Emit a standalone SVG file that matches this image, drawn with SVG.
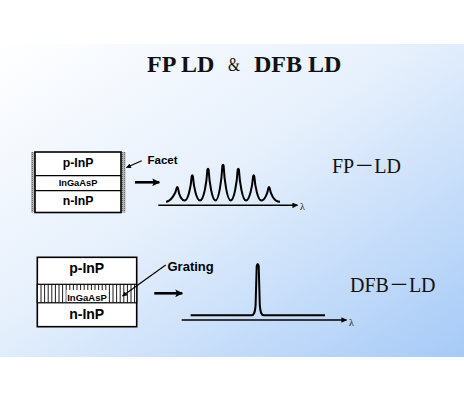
<svg xmlns="http://www.w3.org/2000/svg" width="464" height="400" viewBox="0 0 464 400">
<defs>
<linearGradient id="bg" x1="0" y1="0" x2="1" y2="1">
<stop offset="0" stop-color="#ffffff"/>
<stop offset="0.45" stop-color="#e6f0fc"/>
<stop offset="1" stop-color="#a6caf7"/>
</linearGradient>
<pattern id="stip" width="2" height="2" patternUnits="userSpaceOnUse">
<rect width="2" height="2" fill="#b4b4b4"/>
<rect width="1" height="1" fill="#6e6e6e"/>
</pattern>
<marker id="ah" viewBox="0 0 10 10" refX="9" refY="5" markerWidth="5" markerHeight="5" markerUnits="strokeWidth" orient="auto">
<path d="M0,0 L10,5 L0,10 L2,5 Z" fill="#000"/>
</marker>
<marker id="ahs" viewBox="0 0 10 10" refX="9" refY="5" markerWidth="4.5" markerHeight="4" markerUnits="strokeWidth" orient="auto">
<path d="M0,0 L10,5 L0,10 Z" fill="#000"/>
</marker>
<marker id="ahb" viewBox="0 0 10 10" refX="9" refY="5" markerWidth="3.5" markerHeight="3" markerUnits="strokeWidth" orient="auto">
<path d="M0,0 L10,5 L0,10 L2,5 Z" fill="#000"/>
</marker>
</defs>
<style>
.lay{fill:#ffffff;stroke:#000;stroke-width:1.6}
.lbl{font-family:"Liberation Sans",Arial,sans-serif;font-weight:bold;fill:#000;text-anchor:middle}
.call{font-family:"Liberation Sans",Arial,sans-serif;font-weight:bold;fill:#000}
.ser{font-family:"Liberation Serif","Noto Sans CJK SC",serif;fill:#111}
.curve{fill:none;stroke:#000;stroke-width:2;stroke-linejoin:round}
.axis{stroke:#000;stroke-width:1.4;fill:none}
.big{stroke:#000;stroke-width:2.6;fill:none}
.thin{stroke:#000;stroke-width:1.2;fill:none}
.grat{stroke:#000;stroke-width:0.9}
</style>
<rect width="464" height="400" fill="#ffffff"/>
<rect x="0" y="44" width="464" height="313" fill="url(#bg)"/>

<g id="title">
<text class="ser" x="147" y="71.5" font-size="24" font-weight="bold" fill="#000">FP LD</text>
<text class="ser" x="228" y="70.5" font-size="19" textLength="12" lengthAdjust="spacingAndGlyphs">&amp;</text>
<text class="ser" x="254" y="71.5" font-size="24" font-weight="bold" fill="#000">DFB LD</text>
</g>

<g id="fp-device">
<rect x="31" y="152" width="4" height="60.5" fill="url(#stip)"/>
<rect x="121" y="152" width="4.5" height="60.5" fill="url(#stip)"/>
<rect class="lay" x="35" y="152" width="86" height="60.5"/>
<line class="thin" x1="35" y1="175.7" x2="121" y2="175.7"/>
<line class="thin" x1="35" y1="190.7" x2="121" y2="190.7"/>
<text class="lbl" x="78" y="167" font-size="12.3">p-InP</text>
<text class="lbl" x="78" y="186" font-size="9.3">InGaAsP</text>
<text class="lbl" x="78" y="204.5" font-size="12.3">n-InP</text>
</g>

<g id="dfb-device">
<rect class="lay" x="37.3" y="257.3" width="99.4" height="69.4"/>
<rect x="37.3" y="284.3" width="99.4" height="18.5" fill="#ffffff" stroke="#000" stroke-width="1.2"/>
<g class="grat">
<line x1="41" y1="284.3" x2="41" y2="302.8"/><line x1="44.6" y1="284.3" x2="44.6" y2="302.8"/>
<line x1="48.2" y1="284.3" x2="48.2" y2="302.8"/><line x1="51.8" y1="284.3" x2="51.8" y2="302.8"/>
<line x1="55.4" y1="284.3" x2="55.4" y2="302.8"/><line x1="59" y1="284.3" x2="59" y2="302.8"/>
<line x1="62.6" y1="284.3" x2="62.6" y2="302.8"/><line x1="66.2" y1="284.3" x2="66.2" y2="302.8"/>
<line x1="69.8" y1="284.3" x2="69.8" y2="302.8"/><line x1="73.4" y1="284.3" x2="73.4" y2="302.8"/>
<line x1="77" y1="284.3" x2="77" y2="302.8"/><line x1="80.6" y1="284.3" x2="80.6" y2="302.8"/>
<line x1="84.2" y1="284.3" x2="84.2" y2="302.8"/><line x1="87.8" y1="284.3" x2="87.8" y2="302.8"/>
<line x1="91.4" y1="284.3" x2="91.4" y2="302.8"/><line x1="95" y1="284.3" x2="95" y2="302.8"/>
<line x1="98.6" y1="284.3" x2="98.6" y2="302.8"/><line x1="102.2" y1="284.3" x2="102.2" y2="302.8"/>
<line x1="105.8" y1="284.3" x2="105.8" y2="302.8"/><line x1="109.4" y1="284.3" x2="109.4" y2="302.8"/>
<line x1="113" y1="284.3" x2="113" y2="302.8"/><line x1="116.6" y1="284.3" x2="116.6" y2="302.8"/>
<line x1="120.2" y1="284.3" x2="120.2" y2="302.8"/><line x1="123.8" y1="284.3" x2="123.8" y2="302.8"/>
<line x1="127.4" y1="284.3" x2="127.4" y2="302.8"/><line x1="131" y1="284.3" x2="131" y2="302.8"/>
<line x1="134.6" y1="284.3" x2="134.6" y2="302.8"/>
</g>
<rect x="66.5" y="290" width="41" height="12" fill="#ffffff"/>
<text class="lbl" x="87" y="300.5" font-size="9.5">InGaAsP</text>
<text class="lbl" x="86.7" y="272.8" font-size="14">p-InP</text>
<text class="lbl" x="86.7" y="318.5" font-size="14">n-InP</text>
</g>

<g id="fp-spectrum">
<path class="curve" d="M166,201.8 C171,201.6 175.9,192.9 176.7,188 Q177.3,186.1 177.9,188 C178.7,192.9 180.6,200.5 184.8,200.5 C188.1,200.5 190.9,186.5 191.7,176.3 Q192.3,174.4 192.9,176.3 C193.7,186.5 196.5,200.5 200,200.5 C203.8,200.5 206.6,182.8 207.4,169.6 Q208,167.7 208.6,169.6 C209.4,182.8 212.2,200.5 215.5,200.5 C218.8,200.5 221.6,180.6 222.4,165.6 Q223,163.7 223.6,165.6 C224.4,180.6 227.2,200.5 230.7,200.5 C234.1,200.5 236.9,182.8 237.7,169.6 Q238.3,167.7 238.9,169.6 C239.7,182.8 242.5,200.5 246,200.5 C249.5,200.5 252.3,186.5 253.1,176.3 Q253.7,174.4 254.3,176.3 C255.1,186.5 257.9,200.5 261.3,200.5 C264.8,200.5 267.6,192.9 268.4,188 Q269,186.1 269.6,188 C270.4,192.9 273.5,201.6 280,201.8"/>
<text class="ser" x="300" y="210" font-size="10">λ</text>
<text class="ser" x="332" y="173.3" font-size="20">FP－LD</text>
</g>

<g id="dfb-spectrum">
<path class="curve" stroke-width="2.2" d="M190.7,315.3 H251.5 C254,315.3 255,313 255.6,305 L256.7,266 Q257.7,262 258.7,266 L259.8,305 C260.4,313 261.4,315.3 263.9,315.3 H325"/>
<text class="ser" x="349" y="326" font-size="10">λ</text>
<text class="ser" x="350" y="291.7" font-size="20">DFB－LD</text>
</g>

<g id="callouts">
<text class="call" x="147.5" y="164" font-size="11.5">Facet</text>
<text class="call" x="167.5" y="271" font-size="13">Grating</text>
</g>

<g id="connectors">
<line class="thin" x1="141.7" y1="160.7" x2="126.5" y2="167.5" marker-end="url(#ahs)"/>
<line class="thin" x1="165.7" y1="265" x2="122.5" y2="296" marker-end="url(#ahs)"/>
<line class="big" x1="135" y1="182.3" x2="159.3" y2="182.3" marker-end="url(#ahb)"/>
<line class="big" x1="154.3" y1="293.3" x2="182.3" y2="293.3" marker-end="url(#ahb)"/>
<line class="axis" x1="158.3" y1="205.3" x2="297.5" y2="205.3" marker-end="url(#ahs)"/>
<line class="axis" x1="181.7" y1="320" x2="346.5" y2="320" marker-end="url(#ahs)"/>
</g>
</svg>
